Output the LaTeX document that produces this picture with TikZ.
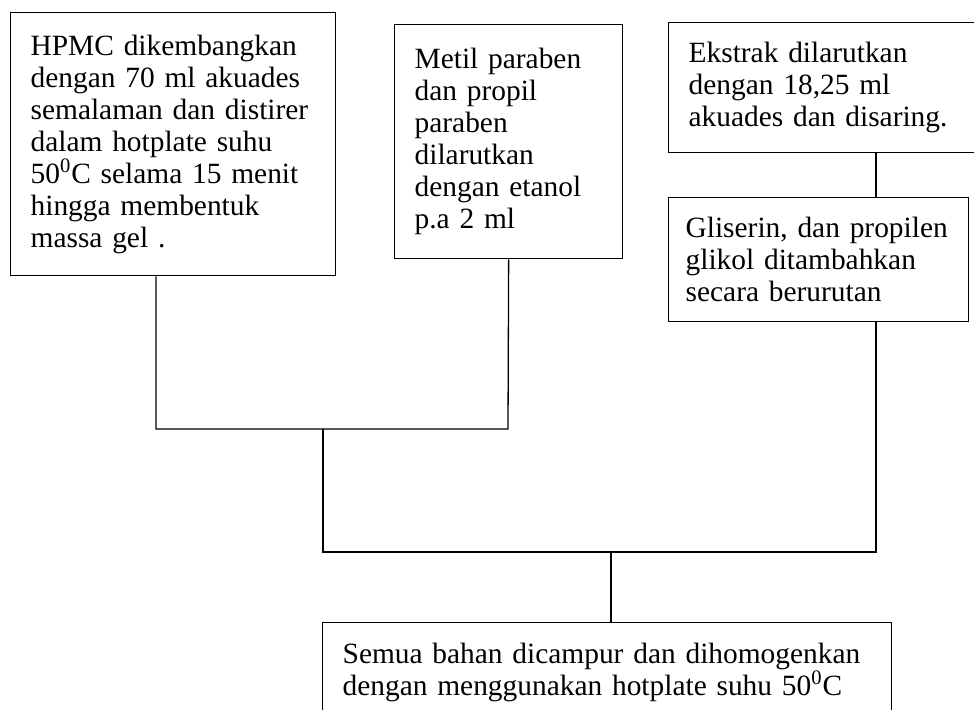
\documentclass[tikz,border=0pt]{standalone}
\usepackage{fontspec}
\setmainfont{Liberation Serif}
\usepackage{tikz}

\begin{document}
\begin{tikzpicture}[x=0.5pt,y=-0.5pt,
    kotak/.style={draw=black, line width=0.65pt, anchor=north west, align=left,
      inner xsep=10pt, inner ysep=0pt, font=\fontsize{14.7}{16}\selectfont},
    garis/.style={draw=black, line width=0.65pt}]
  \useasboundingbox (0,0) rectangle (974,709);
  % Draw the boxes
  \node[kotak, text width=142.5pt, minimum height=131.5pt] (hpmc) at (10,12)
    {HPMC dikembangkan\\dengan 70 ml akuades\\semalaman dan distirer\\dalam hotplate suhu\\50\textsuperscript{0}C selama 15 menit\\hingga membentuk\\massa gel .};
  \node[kotak, text width=94pt, minimum height=117pt] (metil) at (394,24)
    {Metil paraben\\dan propil\\paraben\\dilarutkan\\dengan etanol\\p.a 2 ml};
  \node[kotak, text width=145pt, minimum height=65pt] (ekstrak) at (668,22)
    {Ekstrak dilarutkan\\dengan 18,25 ml\\akuades dan disaring.};
  \node[kotak, inner xsep=8.5pt, text width=133pt, minimum height=62pt] (gliserin) at (668,197)
    {Gliserin, dan propilen\\glikol ditambahkan\\secara berurutan};
  \node[kotak, text width=264.5pt, minimum height=49.5pt] (campur) at (322,622)
    {Semua bahan dicampur dan dihomogenkan\\dengan menggunakan hotplate suhu 50\textsuperscript{0}C};
  % Draw the joining lines
  \coordinate (kiri) at (156,429);
  \coordinate (tengah) at (508,429);
  \coordinate (gabung) at (323,552);
  \coordinate (kanan) at (876,552);
  \coordinate (akhir) at (611,552);
  \draw[garis] (hpmc.south -| kiri) -- (kiri) -- (tengah) -- (metil.south);
  \draw[garis] (ekstrak.south -| kanan) -- (gliserin.north -| kanan);
  \draw[garis] (gabung |- kiri) -- (gabung) -- (kanan) -- (gliserin.south -| kanan);
  \draw[garis] (akhir) -- (campur.north -| akhir);
\end{tikzpicture}
\end{document}
